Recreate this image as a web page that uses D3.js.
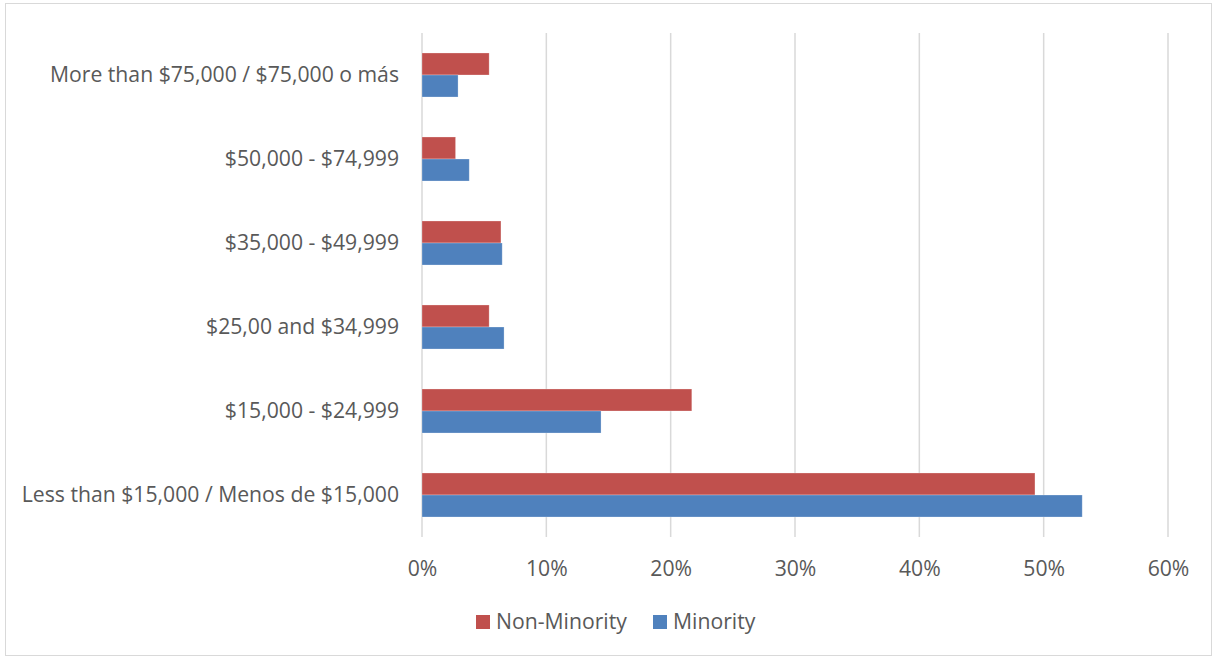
<!DOCTYPE html>
<html>
<head>
<meta charset="utf-8">
<script src="https://cdn.jsdelivr.net/npm/d3@7"></script>
<style>
  html, body { margin: 0; padding: 0; background: #fff; }
  svg text { font-family: "Open Sans", sans-serif; fill: #595959; }
</style>
</head>
<body>
<svg id="chart" width="1215" height="658"></svg>
<script>
// Household income brackets, top to bottom as drawn
const categories = [
  "More than $75,000 / $75,000 o más",
  "$50,000 - $74,999",
  "$35,000 - $49,999",
  "$25,00 and $34,999",
  "$15,000 - $24,999",
  "Less than $15,000 / Menos de $15,000"
];
const seriesNames = ["Non-Minority", "Minority"];
const nonMinority = [5.4, 2.7, 6.35, 5.4, 21.7, 49.3];
const minority = [2.9, 3.8, 6.45, 6.6, 14.4, 53.1];
const xTicks = [0, 10, 20, 30, 40, 50, 60];
const colors = ["#c0504d", "#4f81bd"];

const FONT = "'Open Sans', sans-serif";
const FS = 21.2;

const svg = d3.select("#chart");
const W = 1215, H = 658;

// Outer chart frame
svg.append("rect")
  .attr("x", 5.5).attr("y", 3.5)
  .attr("width", W - 9).attr("height", H - 6)
  .attr("fill", "#fff").attr("stroke", "#d9d9d9").attr("stroke-width", 1);

const plot = { left: 422, right: 1168, top: 33, bottom: 537 };

const x = d3.scaleLinear().domain([0, 60]).range([plot.left, plot.right]);
const y = d3.scaleBand().domain(categories).range([plot.top, plot.bottom]).paddingInner(0.476).paddingOuter(0.238);
const ySub = d3.scaleBand().domain(seriesNames).range([0, y.bandwidth()]);

// Vertical gridlines
svg.append("g").selectAll("line").data(xTicks).join("line")
  .attr("x1", d => x(d)).attr("x2", d => x(d))
  .attr("y1", plot.top).attr("y2", plot.bottom)
  .attr("stroke", "#d9d9d9").attr("stroke-width", 1.5);

// Bars
const rows = categories.map((c, i) => ({ cat: c, values: [nonMinority[i], minority[i]] }));
const groups = svg.append("g").selectAll("g").data(rows).join("g")
  .attr("transform", d => `translate(0,${y(d.cat)})`);
groups.selectAll("rect").data(d => d.values.map((v, j) => ({ v, s: seriesNames[j], c: colors[j] })))
  .join("rect")
  .attr("x", x(0))
  .attr("y", d => ySub(d.s))
  .attr("width", d => x(d.v) - x(0))
  .attr("height", ySub.bandwidth())
  .attr("fill", d => d.c)
  .attr("stroke", "rgba(255,255,255,0.35)").attr("stroke-width", 0.75);

// X axis labels
const xAxis = d3.axisBottom(x).tickValues(xTicks).tickFormat(d => d + "%").tickSize(0).tickPadding(0);
const xg = svg.append("g").attr("transform", `translate(0,${plot.bottom + 32})`).call(xAxis);
xg.select(".domain").remove();
xg.selectAll("text").attr("font-size", FS).attr("font-family", FONT).attr("fill", "#595959").attr("dy", "0.35em");

// Y axis labels
const yAxis = d3.axisLeft(y).tickSize(0).tickPadding(23);
const yg = svg.append("g").attr("transform", `translate(${plot.left},0)`).call(yAxis);
yg.select(".domain").remove();
yg.selectAll("text").attr("font-size", FS).attr("font-family", FONT).attr("fill", "#595959");

// Legend
const legend = svg.append("g").attr("transform", "translate(476,622)");
const legendX = [0, 177];
seriesNames.forEach((name, i) => {
  const g = legend.append("g").attr("transform", `translate(${legendX[i]},0)`);
  g.append("rect").attr("x", 0).attr("y", -7).attr("width", 14).attr("height", 14).attr("fill", colors[i]);
  g.append("text").attr("x", 20).attr("y", 0).attr("dy", "0.35em")
    .attr("font-size", FS).attr("font-family", FONT).text(name);
});
</script>
</body>
</html>
